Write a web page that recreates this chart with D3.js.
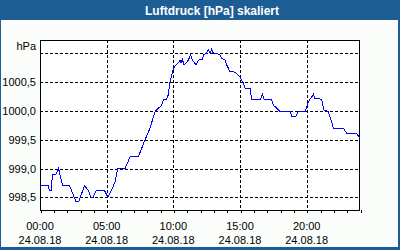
<!DOCTYPE html>
<html>
<head>
<meta charset="utf-8">
<script src="https://cdn.jsdelivr.net/npm/d3@7"></script>
<style>
  html, body { margin: 0; padding: 0; background: #fff; }
  svg { display: block; font-family: "Liberation Sans", Arial, sans-serif; }
</style>
</head>
<body>
<div id="chart"></div>
<script>
// Luftdruck over one day (24.08.18).
const hours = [
  0.00, 0.60, 0.71, 0.83, 0.94, 1.20, 1.39, 1.69, 2.21, 2.70,
  2.89, 3.34, 3.60, 3.83, 3.98, 4.20, 4.85, 5.10, 5.38, 5.63,
  5.83, 6.38, 6.75, 7.37, 7.88, 8.25, 8.63, 9.13, 9.25, 9.50,
  9.62, 9.75, 9.88, 10.00, 10.20, 10.37, 10.50, 10.58, 10.67, 10.80,
  10.95, 11.12, 11.30, 11.42, 11.55, 11.70, 11.87, 12.20, 12.25, 12.50,
  12.62, 12.75, 12.88, 13.00, 13.25, 13.50, 13.63, 13.88, 14.00, 14.25,
  14.50, 14.75, 14.87, 15.05, 15.25, 15.38, 15.75, 15.88, 16.55, 16.67,
  16.80, 17.38, 17.50, 18.00, 18.75, 18.88, 19.20, 19.37, 19.88, 20.05,
  20.20, 20.33, 20.50, 20.62, 21.13, 21.30, 21.62, 21.88, 22.00, 22.75,
  23.00, 23.75, 24.00
];
const pressure = [
  998.71, 998.71, 998.61, 998.61, 998.90, 998.90, 999.00, 998.71, 998.71, 998.42,
  998.42, 998.70, 998.63, 998.50, 998.50, 998.61, 998.61, 998.50, 998.63, 998.77,
  999.00, 999.00, 999.20, 999.20, 999.50, 999.70, 999.99, 1000.10, 1000.19, 1000.20,
  1000.28, 1000.50, 1000.62, 1000.74, 1000.80, 1000.83, 1000.88, 1000.83, 1000.90, 1000.80,
  1000.83, 1000.88, 1000.97, 1000.88, 1000.85, 1000.80, 1000.88, 1000.90, 1000.97, 1001.00,
  1001.07, 1001.00, 1001.07, 1001.00, 1001.00, 1000.97, 1000.91, 1000.88, 1000.80, 1000.68,
  1000.68, 1000.65, 1000.62, 1000.57, 1000.48, 1000.39, 1000.39, 1000.20, 1000.20, 1000.29,
  1000.20, 1000.19, 1000.10, 999.99, 999.99, 999.91, 999.91, 999.99, 999.99, 1000.10,
  1000.19, 1000.22, 1000.29, 1000.22, 1000.20, 1000.01, 999.99, 999.81, 999.70, 999.70,
  999.61, 999.61, 999.52
];
const yTicks = [998.5, 999.0, 999.5, 1000.0, 1000.5];
const yGrid = [998.5, 999.0, 999.5, 1000.0, 1000.5, 1001.0];
const xMajor = [0, 5, 10, 15, 20];
const xLabels = ['00:00', '05:00', '10:00', '15:00', '20:00'];
const dateLabel = '24.08.18';
const title = 'Luftdruck [hPa] skaliert';
const unit = 'hPa';

const W = 400, H = 250;
const plot = { left: 40, top: 40, right: 360, bottom: 210 };
const blue = '#1c5e93';

const svg = d3.select('#chart').append('svg').attr('width', W).attr('height', H);

// Frame and title bar
svg.append('rect').attr('x', 0).attr('y', 0).attr('width', W).attr('height', H).attr('fill', blue);
svg.append('rect').attr('x', 1).attr('y', 20).attr('width', W - 3).attr('height', H - 23).attr('fill', '#fbfdfb');
svg.append('text')
  .attr('x', 212).attr('y', 15)
  .attr('text-anchor', 'middle')
  .attr('fill', '#fff')
  .style('font-weight', 'bold')
  .style('font-size', '12px')
  .text(title);

const x = d3.scaleLinear().domain([0, 24]).range([plot.left, plot.right]);
const y = d3.scaleLinear().domain([998.28, 1001.23]).range([plot.bottom, plot.top]);

svg.append('rect')
  .attr('x', plot.left).attr('y', plot.top)
  .attr('width', plot.right - plot.left).attr('height', plot.bottom - plot.top)
  .attr('fill', '#fff');

// Dashed grid
const g = svg.append('g').attr('shape-rendering', 'crispEdges');
g.selectAll('line.hgrid').data(yGrid).enter().append('line')
  .attr('x1', plot.left).attr('x2', plot.right)
  .attr('y1', d => Math.round(y(d)) + 0.5).attr('y2', d => Math.round(y(d)) + 0.5)
  .attr('stroke', '#000').attr('stroke-dasharray', '3,2');
g.selectAll('line.vgrid').data(xMajor.slice(1)).enter().append('line')
  .attr('y1', plot.top).attr('y2', plot.bottom)
  .attr('x1', d => Math.round(x(d)) + 0.5).attr('x2', d => Math.round(x(d)) + 0.5)
  .attr('stroke', '#000').attr('stroke-dasharray', '3,2');

// Line
const line = d3.line().x((d, i) => x(hours[i])).y(d => y(d));
svg.append('path')
  .datum(pressure)
  .attr('d', line)
  .attr('fill', 'none')
  .attr('stroke', '#0000ff')
  .attr('stroke-width', 1)
  .attr('shape-rendering', 'crispEdges');

// Plot border
g.append('rect')
  .attr('x', plot.left + 0.5).attr('y', plot.top + 0.5)
  .attr('width', plot.right - plot.left - 1).attr('height', plot.bottom - plot.top)
  .attr('fill', 'none').attr('stroke', '#000');

// Hourly ticks below the axis
const xAxis = svg.append('g')
  .attr('transform', `translate(0.5,${plot.bottom})`)
  .call(d3.axisBottom(x).tickValues(d3.range(0, 25)).tickSize(3).tickFormat(''));
xAxis.select('.domain').remove();
xAxis.selectAll('line').attr('shape-rendering', 'crispEdges');

// X labels: time and date
const xl = svg.append('g').style('font-size', '11px').attr('fill', '#000');
xl.selectAll('text.time').data(xMajor).enter().append('text')
  .attr('x', d => x(d)).attr('y', 230).attr('text-anchor', 'middle')
  .text((d, i) => xLabels[i]);
xl.selectAll('text.date').data(xMajor).enter().append('text')
  .attr('x', d => x(d)).attr('y', 244).attr('text-anchor', 'middle')
  .text(dateLabel);

// Y labels
const yl = svg.append('g').style('font-size', '11px').attr('fill', '#000');
yl.selectAll('text').data(yTicks).enter().append('text')
  .attr('x', 36).attr('y', d => y(d) + 4).attr('text-anchor', 'end')
  .text(d => d3.format('.1f')(d).replace('.', ','));
yl.append('text').attr('x', 36).attr('y', 50).attr('text-anchor', 'end').text(unit);
</script>
</body>
</html>
